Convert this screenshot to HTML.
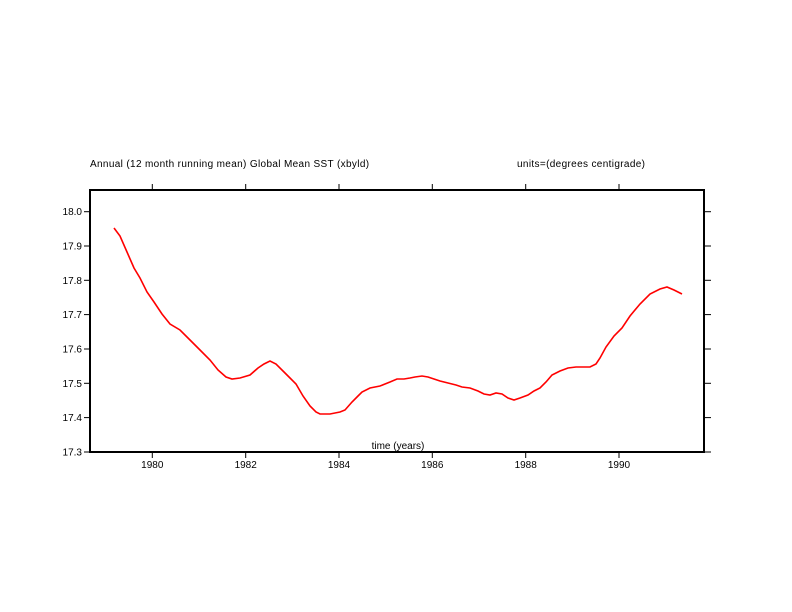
<!DOCTYPE html>
<html><head><style>
html,body{margin:0;padding:0;background:#fff;}
svg{display:block;}
text{font-family:"Liberation Sans",sans-serif;font-size:10px;fill:#000;}
.t{letter-spacing:0.35px;}
</style></head><body>
<svg width="792" height="612" viewBox="0 0 792 612" xmlns="http://www.w3.org/2000/svg">
<text class="t" x="90" y="167">Annual (12 month running mean) Global Mean SST (xbyld)</text>
<text class="t" x="517" y="167">units=(degrees centigrade)</text>
<rect x="90" y="190" width="614" height="262" fill="none" stroke="#000" stroke-width="2"/>
<g stroke="#000" stroke-width="1">
<line x1="152.3" y1="184" x2="152.3" y2="190"/><line x1="245.7" y1="184" x2="245.7" y2="190"/><line x1="339" y1="184" x2="339" y2="190"/><line x1="432.3" y1="184" x2="432.3" y2="190"/><line x1="525.7" y1="184" x2="525.7" y2="190"/><line x1="619" y1="184" x2="619" y2="190"/>
<line x1="152.3" y1="452" x2="152.3" y2="458"/><line x1="245.7" y1="452" x2="245.7" y2="458"/><line x1="339" y1="452" x2="339" y2="458"/><line x1="432.3" y1="452" x2="432.3" y2="458"/><line x1="525.7" y1="452" x2="525.7" y2="458"/><line x1="619" y1="452" x2="619" y2="458"/>
<line x1="84" y1="211.7" x2="90" y2="211.7"/><line x1="84" y1="246" x2="90" y2="246"/><line x1="84" y1="280.3" x2="90" y2="280.3"/><line x1="84" y1="314.6" x2="90" y2="314.6"/><line x1="84" y1="349" x2="90" y2="349"/><line x1="84" y1="383.3" x2="90" y2="383.3"/><line x1="84" y1="417.6" x2="90" y2="417.6"/><line x1="84" y1="452" x2="90" y2="452"/>
<line x1="704" y1="211.7" x2="711" y2="211.7"/><line x1="704" y1="246" x2="711" y2="246"/><line x1="704" y1="280.3" x2="711" y2="280.3"/><line x1="704" y1="314.6" x2="711" y2="314.6"/><line x1="704" y1="349" x2="711" y2="349"/><line x1="704" y1="383.3" x2="711" y2="383.3"/><line x1="704" y1="417.6" x2="711" y2="417.6"/><line x1="704" y1="452" x2="711" y2="452"/>
</g>
<g text-anchor="end">
<text x="82" y="215">18.0</text><text x="82" y="249.5">17.9</text><text x="82" y="284">17.8</text><text x="82" y="318">17.7</text><text x="82" y="352.5">17.6</text><text x="82" y="387">17.5</text><text x="82" y="421">17.4</text><text x="82" y="455.5">17.3</text>
</g>
<g text-anchor="middle">
<text x="152.3" y="468">1980</text><text x="245.7" y="468">1982</text><text x="339" y="468">1984</text><text x="432.3" y="468">1986</text><text x="525.7" y="468">1988</text><text x="619" y="468">1990</text>
<text x="398" y="449">time (years)</text>
</g>
<polyline fill="none" stroke="#f00" stroke-width="1.6" points="114,228 120,236 127,252 134,268 140,278 147,292 154,302 162,314 170,324 180,330 190,340 200,350 210,360 218,370 226,377 232,379 240,378 250,375 258,368 264,364 270,361 276,364 284,372 290,378 296,384 303,396 310,406 316,412 320,414 330,414 340,412 345,410 352,402 358,396 362,392 370,388 380,386 385,384 390,382 397,379 404,379 410,378 415,377 422,376 428,377 434,379 440,381 448,383 456,385 462,387 470,388 478,391 484,394 490,395 496,393 502,394 508,398 514,400 520,398 528,395 534,391 540,388 546,382 552,375 560,371 568,368 576,367 584,367 590,367 596,364 600,358 606,347 614,336 622,328 630,316 640,304 650,294 660,289 667,287 674,290 682,294"/>
</svg>
</body></html>
